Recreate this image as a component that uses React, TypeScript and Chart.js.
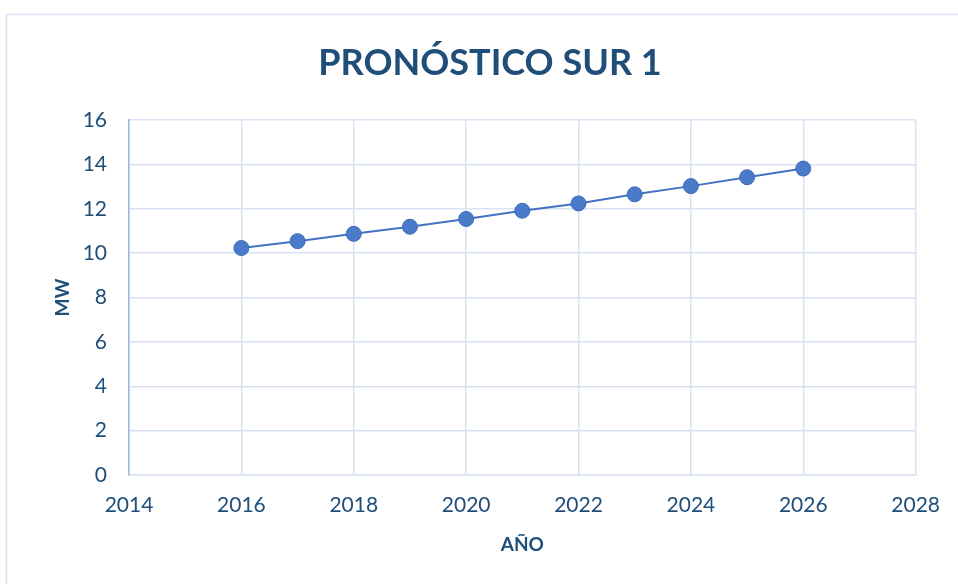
import React, { useEffect, useRef } from "react";
import { Chart, registerables } from "chart.js";

Chart.register(...registerables);

const years = [2016, 2017, 2018, 2019, 2020, 2021, 2022, 2023, 2024, 2025, 2026];
const mw = [10.23, 10.54, 10.87, 11.19, 11.54, 11.91, 12.24, 12.65, 13.02, 13.42, 13.81];
const titleText = "PRONÓSTICO SUR 1";
const xTitle = "AÑO";
const yTitle = "MW";

const TEXT = "#1F4E79";
const GRID = "#D9E2F3";
const FONT = "Lato, 'Open Sans', sans-serif";

const framePlugin = {
  id: "frame",
  beforeDraw(chart: any) {
    const ctx = chart.ctx;
    ctx.save();
    ctx.fillStyle = "#ffffff";
    ctx.fillRect(0, 0, chart.width, chart.height);
    ctx.strokeStyle = "#DAE3F3";
    ctx.lineWidth = 1.5;
    ctx.strokeRect(6.5, 14.5, chart.width + 20, chart.height + 20);
    ctx.restore();
  },
  afterDraw(chart: any) {
    const ctx = chart.ctx;
    ctx.save();
    ctx.fillStyle = TEXT;
    ctx.font = `bold 36px ${FONT}`;
    ctx.textAlign = "center";
    ctx.textBaseline = "middle";
    ctx.fillText(titleText, 490, 63);
    ctx.restore();
  },
};

export default function App() {
  const ref = useRef<HTMLCanvasElement>(null);
  useEffect(() => {
    document.body.style.margin = "0";
    const chart = new Chart(ref.current!, {
      type: "scatter",
      data: {
        datasets: [
          {
            data: years.map((y, i) => ({ x: y, y: mw[i] })),
            showLine: true,
            borderColor: "#4472C4",
            borderWidth: 2,
            backgroundColor: "#4A7BC9",
            pointBorderColor: "#3F6BB8",
            pointBorderWidth: 1,
            pointRadius: 7.5,
          },
        ],
      },
      plugins: [framePlugin],
      options: {
        animation: false,
        responsive: false,
        layout: { padding: { left: 0, right: 40, top: 120, bottom: 0 } },
        plugins: {
          legend: { display: false },
          tooltip: { enabled: false },
          title: { display: false },
        },
        scales: {
          x: {
            type: "linear",
            min: 2014,
            max: 2028,
            afterFit(scale: any) {
              scale.height = 109;
            },
            ticks: {
              stepSize: 2,
              color: TEXT,
              font: { family: FONT, size: 21 },
              padding: 18,
              callback: (v: any) => String(v),
            },
            grid: { color: GRID, lineWidth: 1.5, drawTicks: false },
            border: { color: GRID, width: 1.5 },
            title: {
              display: true,
              text: xTitle,
              color: TEXT,
              font: { family: FONT, size: 19, weight: "bold" },
              padding: { top: 0, bottom: 28 },
            },
          },
          y: {
            min: 0,
            max: 16,
            afterFit(scale: any) {
              scale.width = 129;
            },
            ticks: {
              stepSize: 2,
              color: TEXT,
              font: { family: FONT, size: 21 },
              padding: 22,
            },
            grid: { color: GRID, lineWidth: 1.5, drawTicks: false },
            border: { color: "#9DB5E0", width: 1.5 },
            title: {
              display: true,
              text: yTitle,
              color: TEXT,
              font: { family: FONT, size: 19, weight: "bold" },
              padding: { top: 51, bottom: 0 },
            },
          },
        },
      },
    });
    return () => chart.destroy();
  }, []);
  return (
    <div style={{ position: "absolute", left: 0, top: 0, width: 958, height: 584 }}>
      <canvas ref={ref} width={958} height={584} />
    </div>
  );
}
